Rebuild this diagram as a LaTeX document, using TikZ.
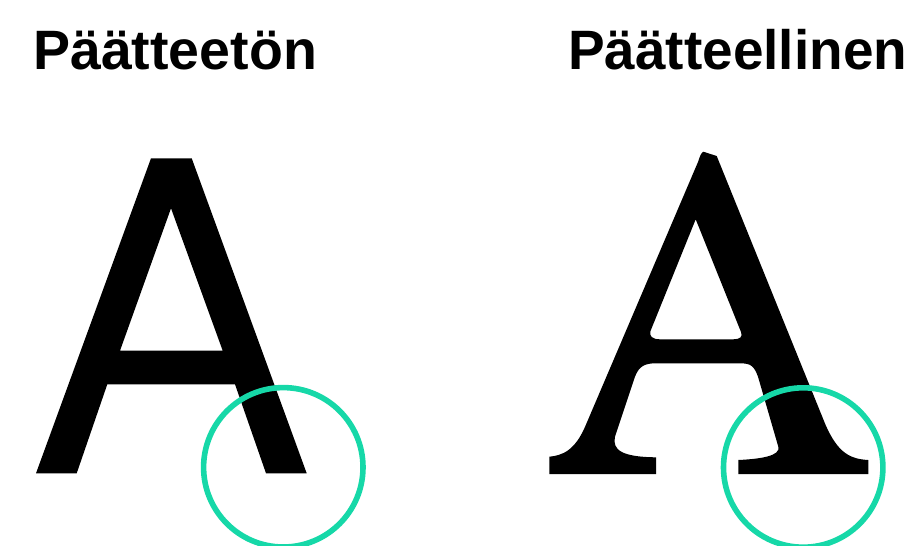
\documentclass[tikz,border=0pt]{standalone}
\usepackage{fontspec}
\setmainfont{Liberation Sans}
\definecolor{ringgreen}{RGB}{22,216,168}
\begin{document}
\begin{tikzpicture}[x=1pt,y=-1pt,
  title/.style={anchor=base west,inner sep=0pt,font=\fontsize{55.5}{60}\selectfont\bfseries},
  glyph/.style={fill=black,even odd rule},
  ring/.style={draw=ringgreen,line width=5.6pt}]
\useasboundingbox (0,0) rectangle (913,546);
\node[title] (t1) at (33,69) {Päätteetön};
\node[title] (t2) at (568,69) {\scalebox{0.99}[1]{Päätteellinen}};
% sans-serif A
\path[glyph] (151,158.3) -- (191.7,158.3) -- (306.7,473.3) -- (266,473.3) -- (235,384.3)
  -- (107.3,384.3) -- (76.7,473.3) -- (36,473.3) -- cycle
  (171,208.3) -- (222.7,350.7) -- (120,350.7) -- cycle;
% serif A
\path[glyph] (703.3,151.7) -- (716.7,156)
  -- (825.6,425)
  .. controls (838,453) and (850,459) .. (868.3,460)
  -- (868.3,474) -- (738.3,474) -- (738.3,460)
  .. controls (760,459) and (781,456) .. (778.3,446.7)
  -- (758,376.7)
  .. controls (754,366) and (751,363.3) .. (740,363.3)
  -- (656,363.3)
  .. controls (645,363.3) and (639,366) .. (635,376.7)
  -- (615,436.7)
  .. controls (612,450) and (622,457) .. (656,457.3)
  -- (656,474) -- (549.3,474) -- (549.3,456.7)
  .. controls (562,455.5) and (575,451) .. (585.8,425)
  -- (698,162) .. controls (700,156) and (701,153) .. (703.3,151.7) -- cycle
  (695.7,219.3) -- (741,332)
  .. controls (743,337) and (740,339.3) .. (733.3,339.3)
  -- (660,339.3)
  .. controls (652,339.3) and (649,336) .. (650.5,331) -- cycle;
\node[circle,ring,minimum size=159.4pt,inner sep=0pt] (c1) at (283.3,467.3) {};
\node[circle,ring,minimum size=159.4pt,inner sep=0pt] (c2) at (803.2,467.5) {};
\end{tikzpicture}
\end{document}
